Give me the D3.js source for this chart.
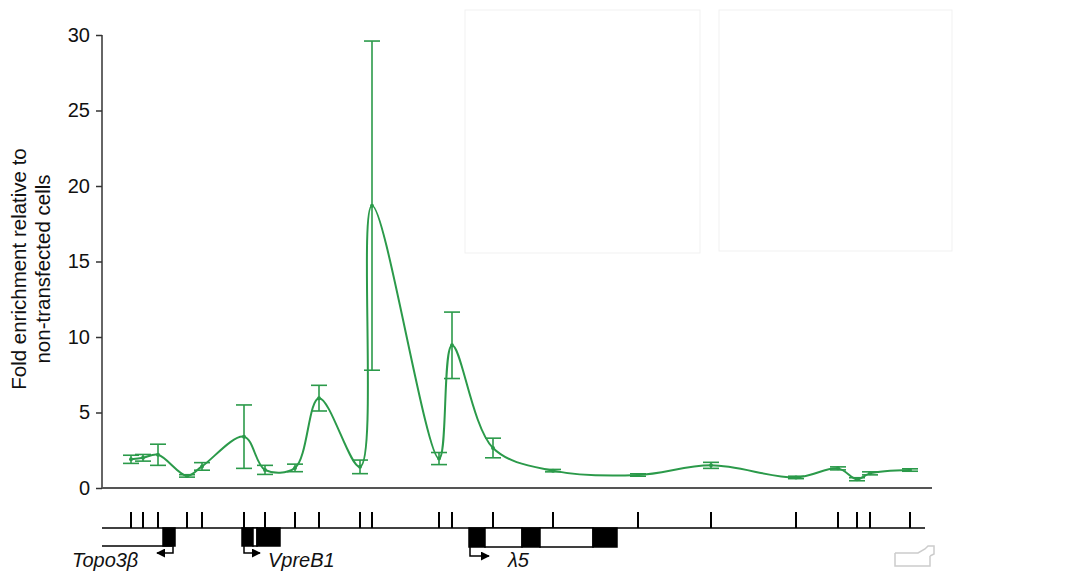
<!DOCTYPE html>
<html><head><meta charset="utf-8">
<script src="https://cdn.jsdelivr.net/npm/d3@7/dist/d3.min.js"></script>
<style>body{margin:0;background:#fff;} svg{display:block;font-family:"Liberation Sans",Arial,sans-serif;}</style>
</head><body>
<svg id="chart" width="1087" height="575"></svg>
<script>
// genomic positions of primer pairs (kb)
const positions = [1.45, 2.05, 2.8, 4.25, 5.0, 7.1, 8.15, 9.65, 10.85, 12.9, 13.5, 16.85, 17.5, 19.55, 22.55, 26.8, 30.45, 34.7, 36.8, 37.75, 38.4, 40.4];
const enrichment = [1.9, 2.0, 2.2, 0.8, 1.43, 3.4, 1.2, 1.33, 5.95, 1.4, 18.7, 1.95, 9.45, 2.65, 1.15, 0.86, 1.5, 0.7, 1.3, 0.58, 0.97, 1.19];
const errors = [0.27, 0.22, 0.7, 0.08, 0.25, 2.1, 0.3, 0.25, 0.85, 0.45, 10.9, 0.4, 2.2, 0.65, 0.08, 0.08, 0.2, 0.08, 0.1, 0.1, 0.1, 0.08];
const yTicks = [0, 5, 10, 15, 20, 25, 30];
const yTitle = ["Fold enrichment relative to", "non-transfected cells"];
// gene features: [start, end, filled]
const topoExons = [[3.05, 3.65, true]];
const vpreExons = [[7.0, 7.55, true], [7.55, 7.75, false], [7.75, 8.9, true]];
const l5Exons = [[18.35, 19.15, true], [19.15, 21.0, false], [21.0, 21.9, true], [21.9, 24.55, false], [24.55, 25.75, true]];
const geneLabels = [{name: "Topo3β", pos: -1.5}, {name: "VpreB1", pos: 8.3}, {name: "λ5", pos: 20.3}];

const svg = d3.select("#chart");
const green = "#2b9a4a";
const x = d3.scaleLinear().domain([0, 41.5]).range([102, 932]);
const y = d3.scaleLinear().domain([0, 30]).range([488, 35]);

// faint boxes
svg.append("rect").attr("x", 465).attr("y", 10).attr("width", 235).attr("height", 243)
  .attr("fill", "none").attr("stroke", "#f1f1f1").attr("stroke-width", 1);
svg.append("rect").attr("x", 719).attr("y", 10).attr("width", 233).attr("height", 241)
  .attr("fill", "none").attr("stroke", "#f1f1f1").attr("stroke-width", 1);

// y axis
const yAxis = svg.append("g").attr("transform", "translate(102,0)")
  .call(d3.axisLeft(y).tickValues(yTicks).tickSize(6).tickPadding(6).tickFormat(d3.format("d")));
yAxis.select(".domain").attr("stroke", "#333").attr("stroke-width", 1.5).attr("d", "M0,35V488");
yAxis.selectAll(".tick line").attr("stroke", "#333").attr("stroke-width", 1.5);
yAxis.selectAll("text").attr("font-size", 20).attr("fill", "#111").attr("font-family", "Liberation Sans, Arial, sans-serif");

// x axis baseline
svg.append("line").attr("x1", x(0)).attr("x2", x(41.5)).attr("y1", y(0)).attr("y2", y(0))
  .attr("stroke", "#555").attr("stroke-width", 2);

// y title
const yt = svg.append("text").attr("transform", "translate(26,269) rotate(-90)")
  .attr("text-anchor", "middle").attr("font-size", 20.5).attr("fill", "#111");
yTitle.forEach((t, i) => yt.append("tspan").attr("x", 0).attr("dy", i === 0 ? 0 : 24).text(t));

// error bars
const data = positions.map((p, i) => ({p, v: enrichment[i], e: errors[i]}));
const eb = svg.append("g").attr("stroke", green).attr("stroke-width", 1.6).attr("fill", "none");
data.forEach(d => {
  eb.append("line").attr("x1", x(d.p)).attr("x2", x(d.p)).attr("y1", y(d.v + d.e)).attr("y2", y(d.v - d.e));
  [d.v + d.e, d.v - d.e].forEach(v => eb.append("line")
    .attr("x1", x(d.p) - 8).attr("x2", x(d.p) + 8).attr("y1", y(v)).attr("y2", y(v)));
});

// smooth line
const line = d3.line().x(d => x(d.p)).y(d => y(d.v)).curve(d3.curveCatmullRom.alpha(0.5));
svg.append("path").datum(data).attr("d", line).attr("fill", "none")
  .attr("stroke", green).attr("stroke-width", 2);
svg.append("g").selectAll("circle").data(data).join("circle")
  .attr("cx", d => x(d.p)).attr("cy", d => y(d.v)).attr("r", 2).attr("fill", green);

// gene map
const mapY = 528;
const gm = svg.append("g");
gm.append("line").attr("x1", x(0)).attr("x2", x(41.15)).attr("y1", mapY).attr("y2", mapY)
  .attr("stroke", "#000").attr("stroke-width", 1.5);
gm.selectAll("line.tk").data(positions).join("line").attr("class", "tk")
  .attr("x1", d => x(d)).attr("x2", d => x(d)).attr("y1", mapY - 16).attr("y2", mapY)
  .attr("stroke", "#000").attr("stroke-width", 2);
// Topo3β lower line
gm.append("line").attr("x1", x(0)).attr("x2", x(3.5)).attr("y1", 546).attr("y2", 546)
  .attr("stroke", "#000").attr("stroke-width", 1.5);
function exons(list, h) {
  list.forEach(([s, e, f]) => gm.append("rect").attr("x", x(s)).attr("y", mapY)
    .attr("width", x(e) - x(s)).attr("height", h)
    .attr("fill", f ? "#000" : "#fff").attr("stroke", "#000").attr("stroke-width", 1.5));
}
exons(topoExons, 18);
exons(vpreExons, 18);
exons(l5Exons, 19);

// arrows
const defs = svg.append("defs");
defs.append("marker").attr("id", "ah").attr("viewBox", "0 0 10 10").attr("refX", 9).attr("refY", 5)
  .attr("markerWidth", 6).attr("markerHeight", 6).attr("orient", "auto")
  .append("path").attr("d", "M0,0L10,5L0,10Z").attr("fill", "#000");
function arrow(p0, p1, y0, y1) {
  gm.append("path").attr("d", `M${x(p0)},${y0}V${y1}H${x(p1)}`).attr("fill", "none")
    .attr("stroke", "#000").attr("stroke-width", 1.5).attr("marker-end", "url(#ah)");
}
arrow(3.55, 2.75, 546, 553);
arrow(7.1, 7.9, 546, 553);
arrow(18.4, 19.35, 547, 556);

// gene labels
svg.append("g").selectAll("text").data(geneLabels).join("text")
  .attr("x", d => x(d.pos)).attr("y", 567).attr("font-size", 20).attr("font-style", "italic")
  .attr("fill", "#111").text(d => d.name);

// faint icon bottom right
svg.append("path").attr("d", "M895,553V566H930V556M895,553H918L925,549L928,546H934V554L930,556")
  .attr("fill", "none").attr("stroke", "#ccc").attr("stroke-width", 1.5);
</script>
</body></html>
